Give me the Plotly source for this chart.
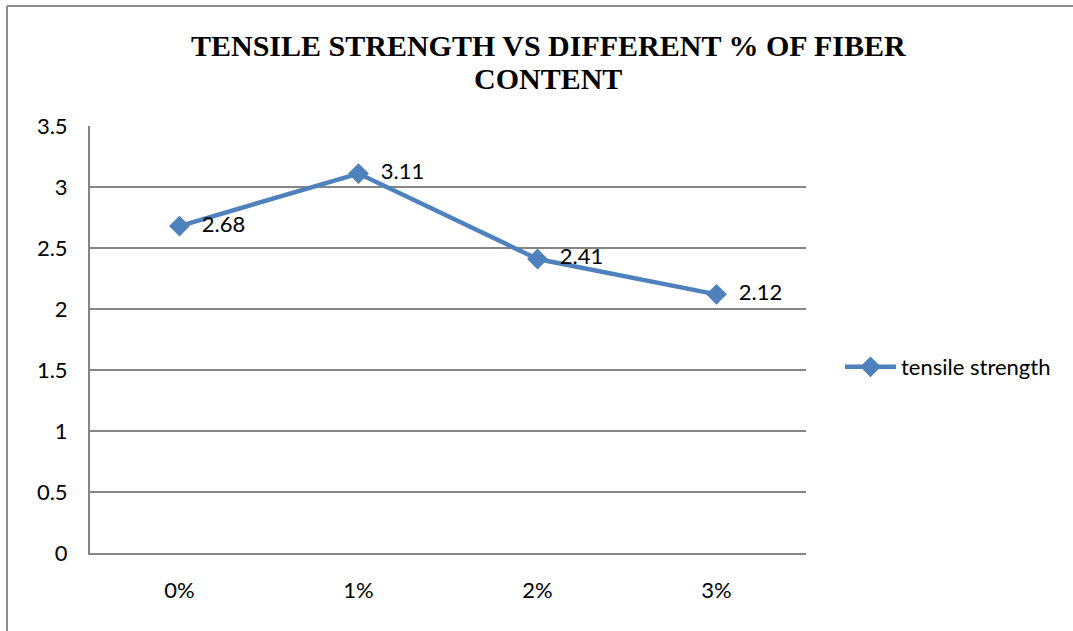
import plotly.graph_objects as go

categories = ["0%", "1%", "2%", "3%"]
tensile_strength = [2.68, 3.11, 2.41, 2.12]
y_ticks = [0, 0.5, 1, 1.5, 2, 2.5, 3, 3.5]
title_lines = ["TENSILE STRENGTH VS DIFFERENT % OF FIBER", "CONTENT"]

W, H = 1073, 631
L, R, T, B = 90, 267, 126, 78
pw, ph = W - L - R, H - T - B
FONT = "Lato, sans-serif"

fig = go.Figure()
fig.add_trace(go.Scatter(
    x=categories,
    y=tensile_strength,
    mode="lines+markers+text",
    name="tensile strength",
    line=dict(color="#4F81BD", width=4.5),
    marker=dict(symbol="diamond", size=16, color="#4F81BD"),
    text=["  " + f"{v:.2f}" for v in tensile_strength],
    textposition="middle right",
    textfont=dict(family=FONT, size=22, color="#000000"),
    cliponaxis=False,
))

# outer chart border (left and top edges)
bx = (7 - L) / pw
by = 1 + (T - 6) / ph
fig.add_shape(type="line", xref="paper", yref="paper", x0=bx, x1=bx, y0=by, y1=-0.5,
              line=dict(color="#8c8c8c", width=2))
fig.add_shape(type="line", xref="paper", yref="paper", x0=bx, x1=1.6, y0=by, y1=by,
              line=dict(color="#8c8c8c", width=2))

# chart title, two centred lines
for line_text, cy in zip(title_lines, [45, 78]):
    fig.add_annotation(
        text=f"<b>{line_text}</b>",
        xref="paper", yref="paper",
        x=(548 - L) / pw, xanchor="center",
        y=1 + (T - cy) / ph, yanchor="middle",
        showarrow=False,
        font=dict(family="Liberation Serif, serif", size=30, color="#000000"),
    )

fig.update_layout(
    width=W, height=H,
    margin=dict(l=L, r=R, t=T, b=B),
    paper_bgcolor="white",
    plot_bgcolor="white",
    showlegend=True,
    legend=dict(
        x=(840 - L) / pw, xanchor="left",
        y=(H - B - 367) / ph, yanchor="middle",
        font=dict(family=FONT, size=22, color="#000000"),
        bgcolor="rgba(0,0,0,0)",
        itemwidth=51,
    ),
    font=dict(family=FONT, size=22, color="#000000"),
)

fig.update_xaxes(
    type="category",
    range=[-0.5, 3.5],
    showgrid=False,
    showline=True, linecolor="#868686", linewidth=2,
    ticks="", ticklabelstandoff=17,
    tickfont=dict(family=FONT, size=22, color="#000000"),
)
fig.update_yaxes(
    range=[0, 3.5],
    tickvals=y_ticks,
    ticktext=[f"{v:g}" for v in y_ticks],
    showgrid=True, gridcolor="#868686", gridwidth=1.5,
    showline=True, linecolor="#868686", linewidth=2,
    zeroline=False,
    ticks="", ticklabelstandoff=16,
    tickfont=dict(family=FONT, size=22, color="#000000"),
)

fig.write_html("out.html")
